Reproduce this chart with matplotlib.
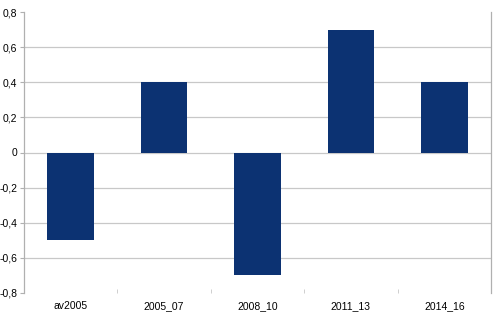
import numpy as np
import matplotlib.pyplot as plt

plt.rcParams['font.family'] = ['Liberation Sans', 'DejaVu Sans']
plt.rcParams['axes.unicode_minus'] = False

# data
periods = ['av2005', '2005_07', '2008_10', '2011_13', '2014_16']
values = [-0.5, 0.4, -0.7, 0.7, 0.4]
yticks = [-0.8, -0.6, -0.4, -0.2, 0, 0.2, 0.4, 0.6, 0.8]

fig = plt.figure(figsize=(4.97, 3.18), dpi=100)
ax = fig.add_axes([24/497, 25/318, 467/497, 281/318])

x = np.arange(len(periods))
ax.bar(x, values, width=0.5, color='#0c3272', zorder=3)

ax.set_xlim(-0.5, len(periods) - 0.5)
ax.set_ylim(-0.8, 0.8)
ax.set_yticks(yticks)
ax.set_yticklabels([('%g' % v).replace('.', ',') for v in yticks])
for v in yticks[1:-1]:
    ax.axhline(v, color='#c8c8c8', lw=0.9, zorder=1)

ax.set_xticks(x)
ax.set_xticklabels(periods)
ax.set_xticks(np.arange(0.5, len(periods) - 1, 1), minor=True)
ax.tick_params(axis='x', which='major', length=0, pad=6, labelsize=7.5)
ax.tick_params(axis='x', which='minor', length=3, color='#c8c8c8', direction='in')
ax.tick_params(axis='y', length=3, color='#b0b0b0', labelsize=7.5, pad=2)

for s in ['top', 'bottom']:
    ax.spines[s].set_visible(False)
for s in ['left', 'right']:
    ax.spines[s].set_color('#b0b0b0')
    ax.spines[s].set_linewidth(0.9)

plt.savefig('out.png', dpi=100)
